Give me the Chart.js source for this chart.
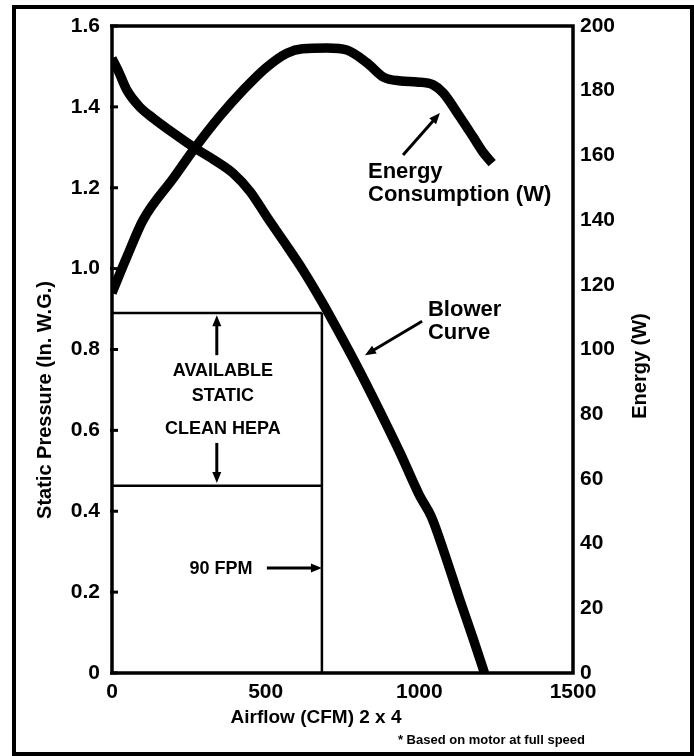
<!DOCTYPE html>
<html>
<head>
<meta charset="utf-8">
<script src="https://cdn.jsdelivr.net/npm/chart.js@4.4.1/dist/chart.umd.min.js"></script>
<style>
    html, body { margin: 0; padding: 0; background: #fff; }
    #wrap { width: 694px; height: 756px; position: relative; }
</style>
</head>
<body>
<div id="wrap"><canvas id="chart"></canvas></div>
<script>
// blower curve: airflow (CFM) vs static pressure (in. W.G.)
const blowerFlow = [0, 20, 48, 90, 134, 200, 270, 330, 394, 450, 504, 560, 620, 680, 740, 800, 860, 937, 1000, 1040, 1080, 1130, 1175, 1212];
const blowerPressure = [1.52, 1.49, 1.442, 1.40, 1.372, 1.335, 1.298, 1.27, 1.236, 1.19, 1.128, 1.066, 0.998, 0.922, 0.84, 0.755, 0.665, 0.545, 0.44, 0.385, 0.30, 0.185, 0.085, 0];

// energy consumption (W) vs airflow
const energyFlow = [0, 50, 101, 200, 270, 350, 427, 500, 569, 620, 700, 764, 830, 883, 940, 992, 1045, 1078, 1132, 1175, 1207, 1237];
const energyWatts = [117.5, 129, 140, 153, 162.3, 172, 180.2, 187, 191.6, 193, 193.2, 192.6, 188.6, 184.2, 183, 182.7, 181.8, 179.3, 171.9, 165.7, 161, 157.6];

// "available static" box (clean HEPA at 90 FPM)
const boxFlow = 683;
const boxTopPressure = 0.89;
const boxBottomPressure = 0.463;

const xTicks = [0, 500, 1000, 1500];
const pressureTicks = [0, 0.2, 0.4, 0.6, 0.8, 1.0, 1.2, 1.4, 1.6];
const energyTicks = [0, 20, 40, 60, 80, 100, 120, 140, 160, 180, 200];

const FONT = '"Liberation Sans", Arial, Helvetica, sans-serif';
const INK = '#000';

function zip(xs, ys) {
    return xs.map((x, i) => ({ x: x, y: ys[i] }));
}

// arrow helper
function arrow(ctx, x1, y1, x2, y2) {
    const ang = Math.atan2(y2 - y1, x2 - x1);
    const head = 11, half = 4.5;
    ctx.beginPath();
    ctx.moveTo(x1, y1);
    ctx.lineTo(x2 - Math.cos(ang) * head * 0.8, y2 - Math.sin(ang) * head * 0.8);
    ctx.lineWidth = 3;
    ctx.strokeStyle = INK;
    ctx.stroke();
    ctx.beginPath();
    ctx.moveTo(x2, y2);
    ctx.lineTo(x2 - Math.cos(ang) * head - Math.sin(ang) * half, y2 - Math.sin(ang) * head + Math.cos(ang) * half);
    ctx.lineTo(x2 - Math.cos(ang) * head + Math.sin(ang) * half, y2 - Math.sin(ang) * head - Math.cos(ang) * half);
    ctx.closePath();
    ctx.fillStyle = INK;
    ctx.fill();
}

const decorPlugin = {
    id: 'decor',
    afterDatasetsDraw(chart) {
        const ctx = chart.ctx;
        const a = chart.chartArea;
        const sx = chart.scales.x, sy = chart.scales.y, sy2 = chart.scales.y2;
        const X = v => sx.getPixelForValue(v);
        const Y = v => sy.getPixelForValue(v);
        const Y2 = v => sy2.getPixelForValue(v);

        ctx.save();
        // outer frame
        ctx.lineWidth = 4;
        ctx.strokeStyle = INK;
        ctx.strokeRect(14, 7, 678, 747);

        // plot frame
        ctx.lineWidth = 3.5;
        ctx.strokeRect(a.left, a.top, a.right - a.left, a.bottom - a.top);

        // inward ticks on pressure axis
        ctx.lineWidth = 3;
        pressureTicks.forEach(t => {
            const y = Y(t);
            ctx.beginPath();
            ctx.moveTo(a.left - 2, y);
            ctx.lineTo(a.left + 6, y);
            ctx.stroke();
        });

        // annotation arrows
        arrow(ctx, X(341), Y(0.786), X(341), Y(0.885));
        arrow(ctx, X(341), Y(0.569), X(341), Y(0.470));
        arrow(ctx, X(504), Y(0.2597), X(boxFlow), Y(0.2597));
        arrow(ctx, X(947), Y2(160.1), X(1067), Y2(173.1));
        arrow(ctx, X(1009), Y(0.870), X(823), Y(0.786));

        // annotation text
        ctx.fillStyle = INK;
        ctx.textBaseline = 'middle';
        ctx.textAlign = 'center';
        ctx.font = 'bold 18px ' + FONT;
        ctx.fillText('AVAILABLE', X(361), Y(0.747));
        ctx.fillText('STATIC', X(361), Y(0.685));
        ctx.fillText('CLEAN HEPA', X(361), Y(0.603));
        ctx.fillText('90 FPM', X(355), Y(0.257));

        ctx.textAlign = 'left';
        ctx.font = 'bold 22px ' + FONT;
        ctx.fillText('Energy', X(833), Y2(154.9));
        ctx.fillText('Consumption (W)', X(833), Y2(147.8));
        ctx.fillText('Blower', X(1028), Y(0.898));
        ctx.fillText('Curve', X(1028), Y(0.841));

        // axis titles
        ctx.font = 'bold 19px ' + FONT;
        ctx.textAlign = 'center';
        ctx.fillText('Airflow (CFM) 2 x 4', 316, 718);

        ctx.font = 'bold 20px ' + FONT;
        ctx.save();
        ctx.translate(45, 400);
        ctx.rotate(-Math.PI / 2);
        ctx.fillText('Static Pressure (In. W.G.)', 0, 0);
        ctx.restore();

        ctx.save();
        ctx.translate(640, 366);
        ctx.rotate(-Math.PI / 2);
        ctx.fillText('Energy (W)', 0, 0);
        ctx.restore();

        ctx.font = 'bold 13px ' + FONT;
        ctx.textAlign = 'right';
        ctx.fillText('* Based on motor at full speed', 585, 740);
        ctx.restore();
    }
};

const curveStyle = {
    borderColor: INK,
    borderWidth: 9.5,
    pointRadius: 0,
    fill: false,
    cubicInterpolationMode: 'monotone',
    borderCapStyle: 'butt',
    borderJoinStyle: 'round'
};

const boxStyle = {
    borderColor: INK,
    borderWidth: 2.5,
    pointRadius: 0,
    fill: false,
    tension: 0
};

const tickFont = { family: FONT, size: 21, weight: 'bold' };

new Chart(document.getElementById('chart'), {
    type: 'line',
    data: {
        datasets: [
            Object.assign({ label: 'Box top', data: zip([0, boxFlow], [boxTopPressure, boxTopPressure]), yAxisID: 'y' }, boxStyle),
            Object.assign({ label: 'Box bottom', data: zip([0, boxFlow], [boxBottomPressure, boxBottomPressure]), yAxisID: 'y' }, boxStyle),
            Object.assign({ label: 'Box side', data: zip([boxFlow, boxFlow], [0, boxTopPressure]), yAxisID: 'y' }, boxStyle),
            Object.assign({ label: 'Blower Curve', data: zip(blowerFlow, blowerPressure), yAxisID: 'y' }, curveStyle),
            Object.assign({ label: 'Energy Consumption (W)', data: zip(energyFlow, energyWatts), yAxisID: 'y2' }, curveStyle)
        ]
    },
    options: {
        responsive: true,
        maintainAspectRatio: false,
        animation: false,
        devicePixelRatio: 1,
        layout: { padding: { top: 26, left: 0, right: 0, bottom: 0 } },
        plugins: {
            legend: { display: false },
            tooltip: { enabled: false }
        },
        scales: {
            x: {
                type: 'linear',
                min: 0, max: 1500,
                afterBuildTicks: s => { s.ticks = xTicks.map(v => ({ value: v })); },
                afterFit: s => { s.height = 83; },
                grid: { display: false, drawTicks: false },
                border: { display: false },
                ticks: { color: INK, font: tickFont, padding: 7, maxRotation: 0, callback: v => String(v) }
            },
            y: {
                type: 'linear',
                position: 'left',
                min: 0, max: 1.6,
                afterBuildTicks: s => { s.ticks = pressureTicks.map(v => ({ value: v })); },
                afterFit: s => { s.width = 112; },
                grid: { display: false, drawTicks: false },
                border: { display: false },
                ticks: {
                    color: INK, font: tickFont, padding: 12,
                    callback: v => v === 0 ? '0' : v.toFixed(1)
                }
            },
            y2: {
                type: 'linear',
                position: 'right',
                min: 0, max: 200,
                afterBuildTicks: s => { s.ticks = energyTicks.map(v => ({ value: v })); },
                afterFit: s => { s.width = 121; },
                grid: { display: false, drawTicks: false },
                border: { display: false },
                ticks: { color: INK, font: tickFont, padding: 7, callback: v => String(v) }
            }
        }
    },
    plugins: [decorPlugin]
});
</script>
</body>
</html>
